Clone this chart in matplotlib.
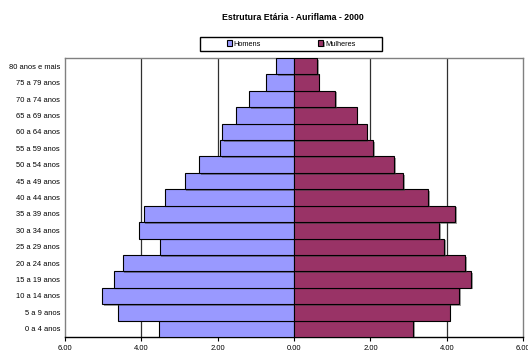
import numpy as np
import matplotlib
matplotlib.use("Agg")
import matplotlib.pyplot as plt
import matplotlib.patheffects as pe
from matplotlib.patches import Rectangle

plt.rcParams['font.family'] = ['Liberation Sans', 'DejaVu Sans']

faixas = ["0 a 4 anos", "5 a 9 anos", "10 a 14 anos", "15 a 19 anos", "20 a 24 anos",
          "25 a 29 anos", "30 a 34 anos", "35 a 39 anos", "40 a 44 anos", "45 a 49 anos",
          "50 a 54 anos", "55 a 59 anos", "60 a 64 anos", "65 a 69 anos", "70 a 74 anos",
          "75 a 79 anos", "80 anos e mais"]
homens = [3.53, 4.62, 5.03, 4.71, 4.49, 3.52, 4.05, 3.94, 3.37, 2.87,
          2.48, 1.93, 1.88, 1.53, 1.18, 0.73, 0.47]
mulheres = [3.12, 4.07, 4.32, 4.63, 4.48, 3.93, 3.80, 4.22, 3.51, 2.86,
            2.62, 2.07, 1.90, 1.64, 1.08, 0.64, 0.61]
ticks = [-6, -4, -2, 0, 2, 4, 6]

W, H = 528, 352
fig = plt.figure(figsize=(W / 100, H / 100), dpi=100)
ax = fig.add_axes([0.1231, 0.0426, 0.991 - 0.1231, 0.8352 - 0.0426])

y = np.arange(len(faixas))
sombra = [pe.SimplePatchShadow(offset=(1.2, -1.2), shadow_rgbFace='#404040', alpha=0.5), pe.Normal()]
bh = ax.barh(y, -np.array(homens), height=1.0, color='#9999FF', edgecolor='black',
             linewidth=0.8, label='Homens', zorder=3)
bm = ax.barh(y, mulheres, height=1.0, color='#993366', edgecolor='black',
             linewidth=0.8, label='Mulheres', zorder=3)
for b in list(bh) + list(bm):
    b.set_path_effects(sombra)

for t in [-4, -2, 2, 4]:
    ax.axvline(t, color='#303030', linewidth=0.9, zorder=1)

ax.set_xlim(-6, 6)
ax.set_ylim(-0.5, len(faixas) - 0.5)
ax.set_xticks(ticks)
ax.set_xticklabels([f"{abs(t):.2f}" for t in ticks], fontsize=5.5)
ax.set_yticks(y)
ax.set_yticklabels(faixas, fontsize=5.4)
ax.tick_params(axis='y', length=0, pad=3.6)
ax.tick_params(axis='x', length=3, width=0.8, pad=3)

for s in ['left', 'top', 'right']:
    ax.spines[s].set_color('#808080')
    ax.spines[s].set_linewidth(1.0)
ax.spines['bottom'].set_color('black')
ax.spines['bottom'].set_linewidth(1.0)

fig.text(292.5 / W, 1 - 17 / H, "Estrutura Etária - Auriflama - 2000", ha='center', va='center',
         fontsize=6.3, fontweight='bold')

# caixa da legenda desenhada à parte, entradas sem moldura
fig.patches.append(Rectangle((200 / W, 1 - 51 / H), 182 / W, 14 / H, transform=fig.transFigure,
                             facecolor='white', edgecolor='black', linewidth=1.0))
leg = fig.legend(handles=[bh, bm], loc='center left', bbox_to_anchor=(226.5 / W, 1 - 44 / H),
                 ncol=2, fontsize=5.3, frameon=False,
                 handlelength=0.7, handleheight=0.7, handletextpad=0.25,
                 columnspacing=7.8, borderpad=0.0, borderaxespad=0.0)

fig.savefig("out.png", dpi=100)
